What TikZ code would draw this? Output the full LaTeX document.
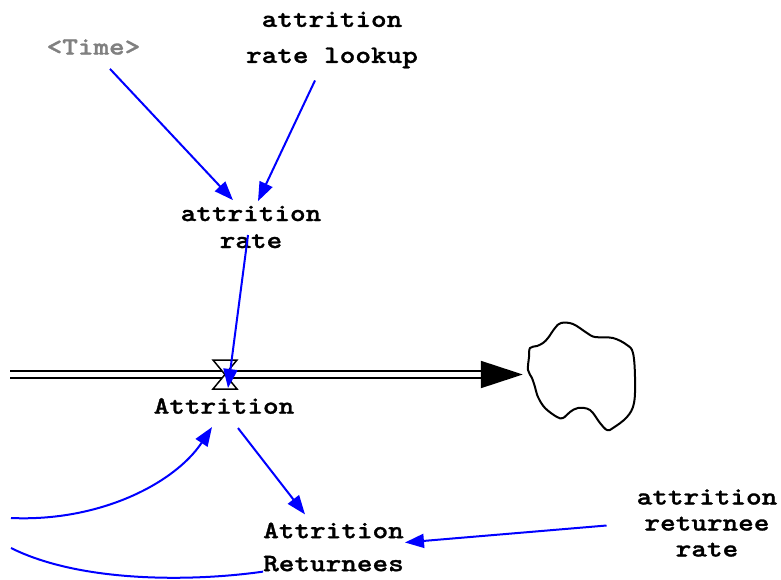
\documentclass[tikz,border=0pt]{standalone}
\usepackage{fontspec}
\newfontfamily\vensimfont{lmmonolt10-bold.otf}[FakeStretch=1.19, FakeBold=1.2]
\usepackage{xcolor}
\definecolor{linkblue}{RGB}{0, 0, 255}
\definecolor{shadowgray}{RGB}{128, 128, 128}
\usetikzlibrary{
  arrows.meta,
  positioning,
  calc
}

\begin{document}
\begin{tikzpicture}[x=1pt, y=-1pt,
  var/.style={inner sep=0pt, align=center,
              font=\fontsize{25}{#1}\vensimfont},
  var/.default=27,
  link/.style={draw=linkblue, line width=2pt,
               -{Triangle[length=19pt, width=14pt]}},
  pipe/.style={draw=black, line width=2pt, double=white, double distance=5pt,
               -{Triangle[length=42pt, width=27pt]}},
  hourglass/.style={draw=black, fill=white, line width=1.5pt, line join=miter}]
\useasboundingbox (0,0) rectangle (781,580);

% variables
\node[var, text=shadowgray] (time) at (93.5,47) {<Time>};
\node[var=36] (lookup) at (332,40) {attrition\\rate lookup};
\node[var] (rate) at (251,227) {attrition\\rate};
\node[var=33] (returnees) at (333.5,547) {Attrition\\Returnees};
\node[var=26] (retrate) at (707,523) {attrition\\returnee\\rate};

% flow into the sink
\coordinate (src) at (10,374.5);
\node[minimum width=107pt, minimum height=109pt, inner sep=0pt] (sink) at (581.5,374.5) {};
\draw[pipe, shorten >=5pt] (src) -- (sink.west);
\draw[line width=2pt, line join=round]
  plot[smooth cycle, tension=0.6] coordinates {
    (561,323) (573,324) (587,333) (595,337) (613,338) (627,345) (633,353)
    (635,377) (634,403) (627,417) (613,428) (607,430) (600,423) (590,410)
    (578,408) (570,412) (563,418) (557,417) (545,408) (538,397) (535,387)
    (532,378) (528,370) (529,357) (530,348) (537,346) (543,343) (548,338)
    (555,328)};

\coordinate (valve) at (225,374.5);
\draw[hourglass] ([shift={(-12,-14.5)}]valve) -- ++(24,0) -- ++(-24,29) -- ++(24,0) -- cycle;
\node[var] (attr) at (224,406) {Attrition};

% links
\draw[link] ([shift={(16.5,14)}]time.south) -- ([shift={(-18,-5.5)}]rate.north);
\draw[link] ([shift={(-17,12)}]lookup.south) -- ([shift={(7,-4.5)}]rate.north);
\draw[link] ([shift={(-3,8)}]rate.center) -- ([shift={(3,13.5)}]valve);
\draw[link] ([shift={(14,14)}]attr.south) -- ([shift={(-28.5,-8)}]returnees.north);
\draw[link] ([shift={(-30,2.5)}]retrate.west) -- ([shift={(1,-4.5)}]returnees.east);

\coordinate (stockin) at (11,518);
\coordinate (stockout) at (11,548);
\draw[link] (stockin) .. controls +(89,4) and +(-37,56) .. ([shift={(-12,13)}]attr.south);
\draw[link, -] (returnees.south west) .. controls +(-70,10) and +(70,35) .. (stockout);
\end{tikzpicture}
\end{document}
